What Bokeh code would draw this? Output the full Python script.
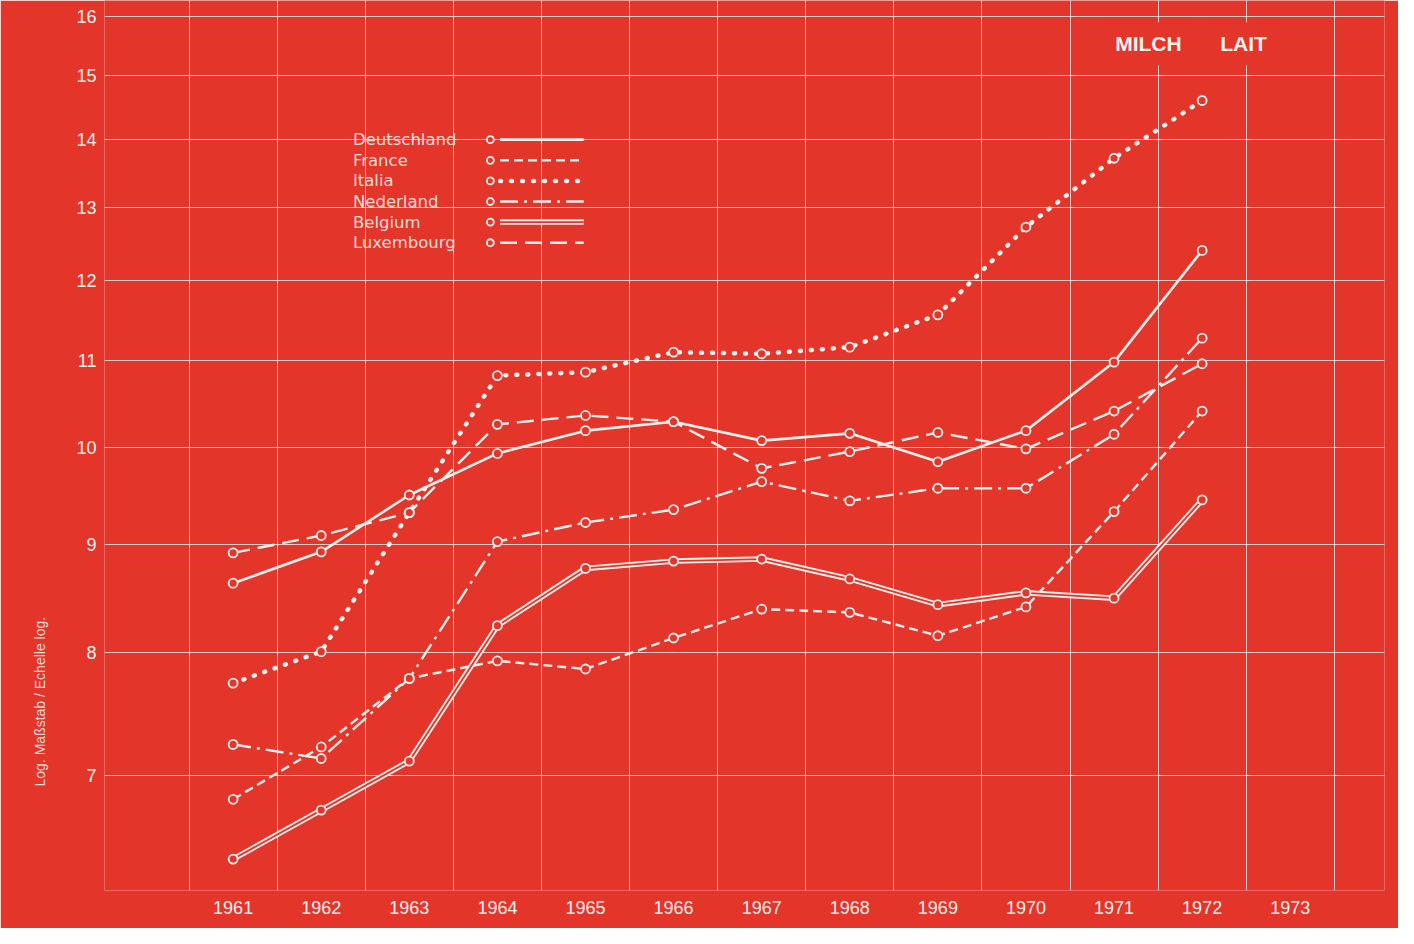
import numpy as np
from bokeh.plotting import figure
from bokeh.models import FixedTicker, PrintfTickFormatter, Label, Title
from bokeh.embed import file_html
from bokeh.resources import INLINE
from bokeh.core.properties import value

# ---------------- data ----------------
years = [1961, 1962, 1963, 1964, 1965, 1966, 1967, 1968, 1969, 1970, 1971, 1972]
deutschland = [8.63, 8.93, 9.50, 9.94, 10.19, 10.29, 10.08, 10.16, 9.85, 10.19, 10.98, 12.40]
france = [6.82, 7.22, 7.78, 7.93, 7.86, 8.13, 8.39, 8.36, 8.15, 8.41, 9.33, 10.41]
italia = [7.74, 8.01, 9.32, 10.82, 10.86, 11.10, 11.08, 11.16, 11.56, 12.72, 13.71, 14.60]
nederland = [7.24, 7.13, 7.78, 9.03, 9.22, 9.35, 9.64, 9.44, 9.57, 9.57, 10.15, 11.27]
belgium = [6.39, 6.74, 7.11, 8.24, 8.77, 8.84, 8.86, 8.67, 8.43, 8.54, 8.49, 9.45]
luxembourg = [8.92, 9.09, 9.32, 10.26, 10.36, 10.29, 9.78, 9.96, 10.17, 9.99, 10.41, 10.96]

series_names = ["Deutschland", "France", "Italia", "Nederland", "Belgium", "Luxembourg"]
x_tick_years = [1961, 1962, 1963, 1964, 1965, 1966, 1967, 1968, 1969, 1970, 1971, 1972, 1973]
y_ticks = [7, 8, 9, 10, 11, 12, 13, 14, 15, 16]
title_words = ["MILCH", "LAIT"]
y_axis_label = "Log. Maßstab / Echelle log."

# ---------------- style ----------------
RED = "#e3352a"
WHITE = "#fdf1ee"
SOFT = "#f6dcd6"
FONT = "Liberation Sans"

styles = {
    "Deutschland": dict(line_dash="solid", line_width=2.6),
    "France": dict(line_dash="9 5", line_width=2.4),
    "Italia": dict(line_dash="1 10", line_width=4.5, line_cap="round"),
    "Nederland": dict(line_dash="18 6 3 6", line_width=2.4),
    "Belgium": None,
    "Luxembourg": dict(line_dash="17 8", line_width=2.4),
}
data = {
    "Deutschland": deutschland, "France": france, "Italia": italia,
    "Nederland": nederland, "Belgium": belgium, "Luxembourg": luxembourg,
}

p = figure(width=1398, height=928, y_axis_type="log",
           x_range=(1959.54, 1974.07), y_range=(6.175, 16.28),
           output_backend="svg", toolbar_location=None,
           min_border_left=104, min_border_right=14, min_border_top=0, min_border_bottom=38)
p.background_fill_color = RED
p.border_fill_color = RED
p.outline_line_color = None

# axes
p.xaxis.ticker = FixedTicker(ticks=x_tick_years)
p.xaxis.formatter = PrintfTickFormatter(format="%d")
p.yaxis.ticker = FixedTicker(ticks=y_ticks)
p.yaxis.formatter = PrintfTickFormatter(format="%d")
for ax in (p.xaxis[0], p.yaxis[0]):
    ax.axis_line_color = None
    ax.major_tick_line_color = None
    ax.minor_tick_line_color = None
    ax.major_label_text_color = WHITE
    ax.major_label_text_font = FONT
    ax.major_label_text_font_size = "18px"
p.xaxis.major_label_standoff = 4
p.yaxis.major_label_standoff = 2

# vertical caption in the left margin, low on the axis
p.add_layout(Title(text=y_axis_label, align="left", vertical_align="top",
                   offset=104, standoff=48,
                   text_font=FONT, text_font_size="14px", text_font_style="normal",
                   text_color=SOFT), "left")

# grid
p.xgrid.ticker = FixedTicker(ticks=[y + 0.5 for y in range(1960, 1974)])
p.ygrid.ticker = FixedTicker(ticks=y_ticks)
for g in (p.xgrid[0], p.ygrid[0]):
    g.grid_line_color = WHITE
    g.grid_line_alpha = 0.8
    g.grid_line_width = 1

def draw_series(name, xs, ys):
    st = styles[name]
    if st is None:  # double line
        p.line(xs, ys, line_color=WHITE, line_width=5.5)
        p.line(xs, ys, line_color=RED, line_width=1.8)
    else:
        p.line(xs, ys, line_color=WHITE, **st)

for name in series_names:
    draw_series(name, years, data[name])
for name in series_names:
    p.scatter(years, data[name], marker="circle", size=9, line_color=WHITE,
              line_width=1.8, fill_color=RED)

# ---------------- legend (manual: label left, sample right) ----------------
leg_x_text = 1962.36
leg_x_marker = 1963.92
leg_x0, leg_x1 = 1964.03, 1964.98
leg_y0 = 13.99
leg_step = 0.9778
leg_y = [leg_y0 * leg_step ** i for i in range(len(series_names))]
p.text(x=[leg_x_text] * len(series_names), y=leg_y, text=series_names,
       text_font=value("DejaVu Sans"), text_font_size="16.5px", text_color=SOFT,
       text_align="left", text_baseline="middle")
for name, yy in zip(series_names, leg_y):
    draw_series(name, [leg_x0, leg_x1], [yy, yy])
p.scatter([leg_x_marker] * len(series_names), leg_y, marker="circle", size=7,
          line_color=WHITE, line_width=1.8, fill_color=RED)

# ---------------- titles ----------------
for word, xx in zip(title_words, [1971.39, 1972.47]):
    p.add_layout(Label(x=xx, y=15.53, text=word, text_font=FONT, text_font_size="21px",
                       text_font_style="bold", text_color=WHITE,
                       text_align="center", text_baseline="middle",
                       background_fill_color=RED, padding=10))

html = file_html(p, INLINE)
html = html.replace("<body>", '<body style="background-color:%s;">' % RED, 1)
open("out.html", "w").write(html)
